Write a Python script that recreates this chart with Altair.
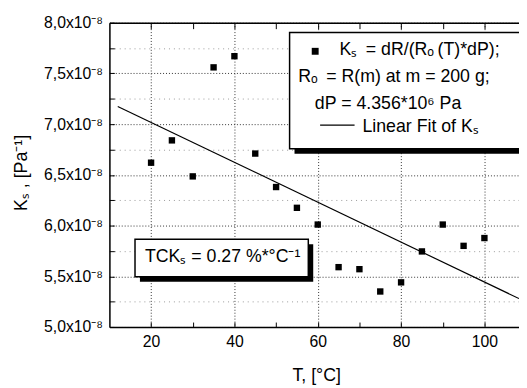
import altair as alt
import pandas as pd

# Temperature, °C
T = [20, 25, 30, 35, 40, 45, 50, 55, 60, 65, 70, 75, 80, 85, 90, 95, 100]
# K_s in units of 1e-8 Pa^-1
K = [6.62, 6.84, 6.485, 7.56, 7.67, 6.71, 6.38, 6.175, 6.01, 5.59, 5.57,
     5.35, 5.44, 5.745, 6.01, 5.80, 5.877]

# Linear fit end points
fit_T = [12, 108.3]
fit_K = [7.175, 5.28]

x_major = [20, 40, 60, 80, 100]
x_ticks = [20, 30, 40, 50, 60, 70, 80, 90, 100]
y_major = [5.0, 5.5, 6.0, 6.5, 7.0, 7.5, 8.0]
y_minor = [5.25, 5.75, 6.25, 6.75, 7.25, 7.75]
y_ticks = y_major + y_minor

W, H = 416, 309
FONT = "Liberation Sans"

pts = pd.DataFrame({"T": T, "K": K})
fit = pd.DataFrame({"T": fit_T, "K": fit_K})
ann = pd.DataFrame({"a": [0]})

xs = alt.Scale(domain=[10, 108.3], nice=False, zero=False)
ys = alt.Scale(domain=[5, 8], nice=False, zero=False)


def X(axis):
    return alt.X("T:Q", scale=xs, axis=axis)


def Y(axis):
    return alt.Y("K:Q", scale=ys, axis=axis)


off = dict(labels=False, title=None, grid=False)

# minor horizontal gridlines
grid_minor = alt.Chart(pts).mark_point(opacity=0).encode(
    x=X(None),
    y=Y(alt.Axis(orient="left", values=y_minor, grid=True, gridDash=[1, 4],
                 gridColor="#999999", labels=False, ticks=False, domain=False,
                 title=None)),
)

# main axes + points
points = alt.Chart(pts).mark_square(size=42, color="black", opacity=1).encode(
    x=X(alt.Axis(orient="bottom", values=x_major, grid=True, gridDash=[1, 2],
                 gridColor="#333333", ticks=False, domain=True,
                 domainColor="black", domainWidth=1.5, labelFont=FONT,
                 labelFontSize=16, labelColor="black", labelPadding=7,
                 labelOverlap=False, title="T, [°C]", titleFont=FONT,
                 titleFontSize=18, titleFontWeight="normal", titleColor="black",
                 titleX=210, titleY=54, titleAlign="center",
                 titleBaseline="alphabetic")),
    y=Y(alt.Axis(orient="left", values=y_major, grid=True, gridDash=[1, 2],
                 gridColor="#333333", ticks=False, domain=True,
                 domainColor="black", domainWidth=1.5, labelFont=FONT,
                 labelFontSize=16, labelColor="black", labelPadding=7,
                 labelOverlap=False,
                 labelExpr="replace(format(datum.value, '.1f'), '.', ',') + 'x10⁻⁸'",
                 title="Kₛ , [Pa⁻¹]", titleFont=FONT, titleFontSize=18,
                 titleFontWeight="normal", titleColor="black", titleAngle=270,
                 titleX=-84, titleY=152, titleAlign="center",
                 titleBaseline="alphabetic")),
)

# top border with inward ticks
top_ticks = alt.Chart(pts).mark_point(opacity=0).encode(
    x=X(alt.Axis(orient="bottom", offset=-H, values=x_ticks, ticks=True,
                 tickSize=6, tickColor="black", domain=True, domainColor="black",
                 domainWidth=1.5, **off)),
    y=Y(None),
)
# bottom inward ticks
bottom_ticks = alt.Chart(pts).mark_point(opacity=0).encode(
    x=X(alt.Axis(orient="top", offset=-H, values=x_ticks, ticks=True,
                 tickSize=5, tickColor="black", domain=False, **off)),
    y=Y(None),
)
# left inward ticks
left_ticks = alt.Chart(pts).mark_point(opacity=0).encode(
    x=X(None),
    y=Y(alt.Axis(orient="right", offset=-W, values=y_ticks, ticks=True,
                 tickSize=5, tickColor="black", domain=False, **off)),
)

fit_line = alt.Chart(fit).mark_line(color="black", strokeWidth=1.2).encode(
    x=X(None), y=Y(None)
)


def box(x1, y1, x2, y2, sh=5):
    shadow = alt.Chart(ann).mark_rect(color="black").encode(
        x=alt.value(x1 + sh), x2=alt.value(x2 + sh),
        y=alt.value(y1 + sh), y2=alt.value(y2 + sh))
    face = alt.Chart(ann).mark_rect(fill="white", stroke="black",
                                    strokeWidth=1.5).encode(
        x=alt.value(x1), x2=alt.value(x2), y=alt.value(y1), y2=alt.value(y2))
    return [shadow, face]


def txt(s, x, y, align="center", size=18):
    return alt.Chart(ann).mark_text(text=s, font=FONT, fontSize=size,
                                    align=align, baseline="alphabetic",
                                    color="black").encode(
        x=alt.value(x), y=alt.value(y))


legend_layers = box(183, 10, 430, 128) + [
    alt.Chart(ann).mark_square(size=49, color="black", opacity=1).encode(
        x=alt.value(209), y=alt.value(29)),
    txt("Kₛ\u2009 = dR/(Rₒ\u2009(T)*dP);", 315, 33),
    txt("Rₒ\u2009 = R(m) at m = 200 g;", 289, 60),
    txt("dP = 4.356*10⁶ Pa", 283, 88),
    alt.Chart(ann).mark_rule(color="black", strokeWidth=1.2).encode(
        x=alt.value(214), x2=alt.value(249), y=alt.value(104)),
    txt("Linear Fit of Kₛ", 257, 111, align="left"),
]

tck_layers = box(26, 220, 202, 258) + [
    txt("TCKₛ = 0.27 %*°C⁻¹", 115, 243),
]

chart = alt.layer(
    grid_minor, points, top_ticks, bottom_ticks, left_ticks, fit_line,
    *legend_layers, *tck_layers,
).resolve_axis(x="independent", y="independent").properties(
    width=W, height=H,
    autosize=alt.AutoSizeParams(type="none"),
    padding={"left": 103, "top": 12, "right": 0, "bottom": 59},
).configure_view(stroke=None).configure(background="white")

chart.save("out.html", embed_options={"renderer": "svg", "actions": False})
